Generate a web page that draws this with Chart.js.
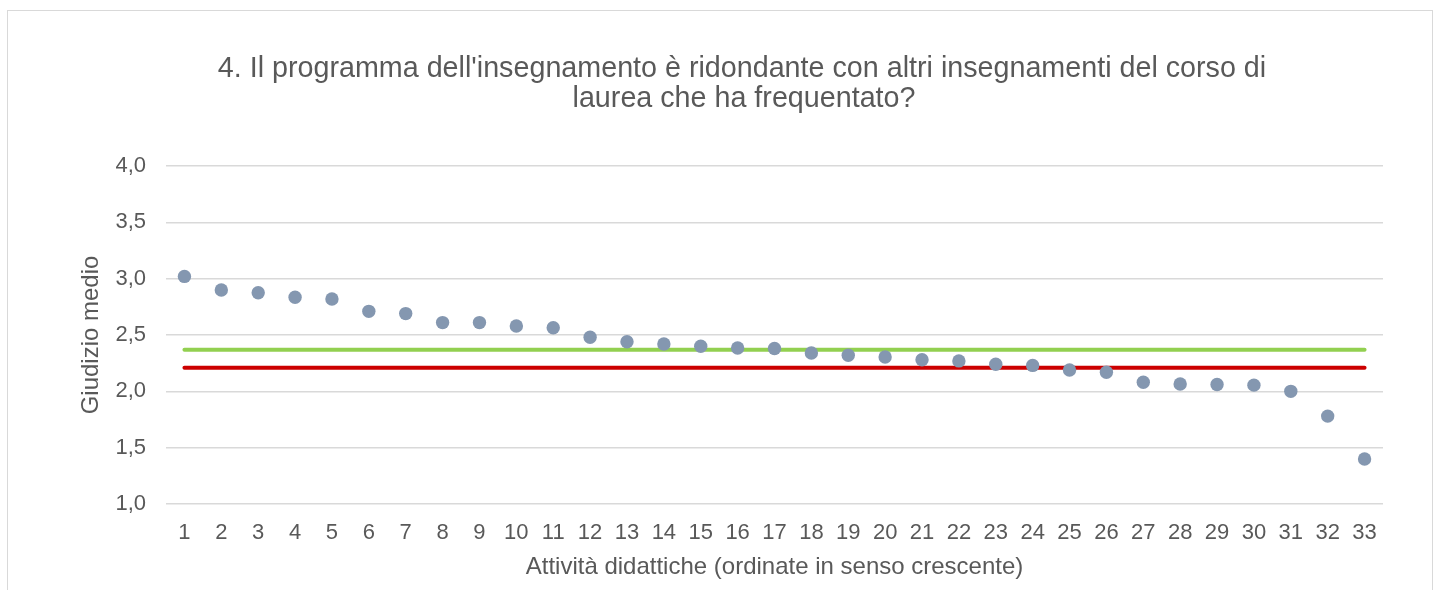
<!DOCTYPE html>
<html>
<head>
<meta charset="utf-8">
<script src="https://cdn.jsdelivr.net/npm/chart.js@4.4.1/dist/chart.umd.min.js"></script>
<style>
  html, body { margin: 0; padding: 0; background: #fff; }
  body { width: 1439px; height: 590px; position: relative; overflow: hidden; }
  #frame { position: absolute; left: 7px; top: 10px; width: 1426px; height: 620px; border: 1px solid #d9d9d9; box-sizing: border-box; }
  #wrap { position: absolute; left: 0; top: 0; width: 1439px; height: 590px; }
</style>
</head>
<body>
<div id="frame"></div>
<div id="wrap"><canvas id="c" width="1439" height="590"></canvas></div>
<script>
const titleLines = ["4. Il programma dell'insegnamento è ridondante con altri insegnamenti del corso di", "laurea che ha frequentato?"];
const xAxisTitle = "Attività didattiche (ordinate in senso crescente)";
const yAxisTitle = "Giudizio medio";
const categories = ["1","2","3","4","5","6","7","8","9","10","11","12","13","14","15","16","17","18","19","20","21","22","23","24","25","26","27","28","29","30","31","32","33"];
const values = [3.02, 2.90, 2.875, 2.835, 2.82, 2.71, 2.69, 2.61, 2.61, 2.58, 2.565, 2.48, 2.44, 2.42, 2.40, 2.385, 2.38, 2.34, 2.32, 2.305, 2.28, 2.27, 2.24, 2.23, 2.19, 2.17, 2.08, 2.065, 2.06, 2.055, 2.00, 1.78, 1.40];
const greenMean = 2.368;
const redMean = 2.21;
const yMin = 1.0, yMax = 4.0, yStep = 0.5;

const textColor = '#595959';
const fontFamily = '"Liberation Sans", Arial, sans-serif';

const titlePlugin = {
  id: 'customTitle',
  afterDraw(chart) {
    const ctx = chart.ctx;
    ctx.save();
    ctx.fillStyle = textColor;
    ctx.font = '28.7px ' + fontFamily;
    ctx.textAlign = 'center';
    ctx.textBaseline = 'alphabetic';
    ctx.fillText(titleLines[0], 742, 77);
    ctx.fillText(titleLines[1], 744, 107);
    ctx.restore();
  }
};

new Chart(document.getElementById('c'), {
  type: 'line',
  data: {
    labels: categories,
    datasets: [
      {
        label: 'Giudizio',
        data: values,
        showLine: false,
        pointRadius: 6.7,
        pointBorderWidth: 0,
        pointBackgroundColor: '#8497b0',
        pointBorderColor: '#8497b0',
        order: 0
      },
      {
        label: 'Media',
        data: [{x: categories[0], y: greenMean}, {x: categories[categories.length - 1], y: greenMean}],
        borderColor: '#92d050',
        borderWidth: 4,
        borderCapStyle: 'round',
        pointRadius: 0,
        order: 1
      },
      {
        label: 'Mediana',
        data: [{x: categories[0], y: redMean}, {x: categories[categories.length - 1], y: redMean}],
        borderColor: '#cc0000',
        borderWidth: 4,
        borderCapStyle: 'round',
        pointRadius: 0,
        order: 2
      }
    ]
  },
  options: {
    responsive: false,
    animation: false,
    events: [],
    layout: { padding: { top: 166, left: 0, right: 56, bottom: 0 } },
    plugins: { legend: { display: false }, title: { display: false }, tooltip: { enabled: false } },
    scales: {
      x: {
        type: 'category',
        offset: true,
        grid: { display: false, drawTicks: false },
        border: { display: false },
        ticks: { color: textColor, font: { family: fontFamily, size: 22 }, padding: 16, maxRotation: 0, autoSkip: false },
        title: { display: true, text: xAxisTitle, color: textColor, font: { family: fontFamily, size: 24 }, padding: { top: 0, bottom: 8.6 } },
        afterFit(scale) { scale.height = 86; }
      },
      y: {
        min: yMin, max: yMax,
        grid: { color: '#d9d9d9', lineWidth: 1.5, drawTicks: false },
        border: { display: false },
        ticks: {
          stepSize: yStep, color: textColor, font: { family: fontFamily, size: 22 }, padding: 20,
          callback: (v) => Number(v).toFixed(1).replace('.', ',')
        },
        title: { display: true, text: yAxisTitle, color: textColor, font: { family: fontFamily, size: 24 }, padding: { top: 77, bottom: 0 } },
        afterFit(scale) { scale.width = 166; }
      }
    }
  },
  plugins: [titlePlugin]
});
</script>
</body>
</html>
